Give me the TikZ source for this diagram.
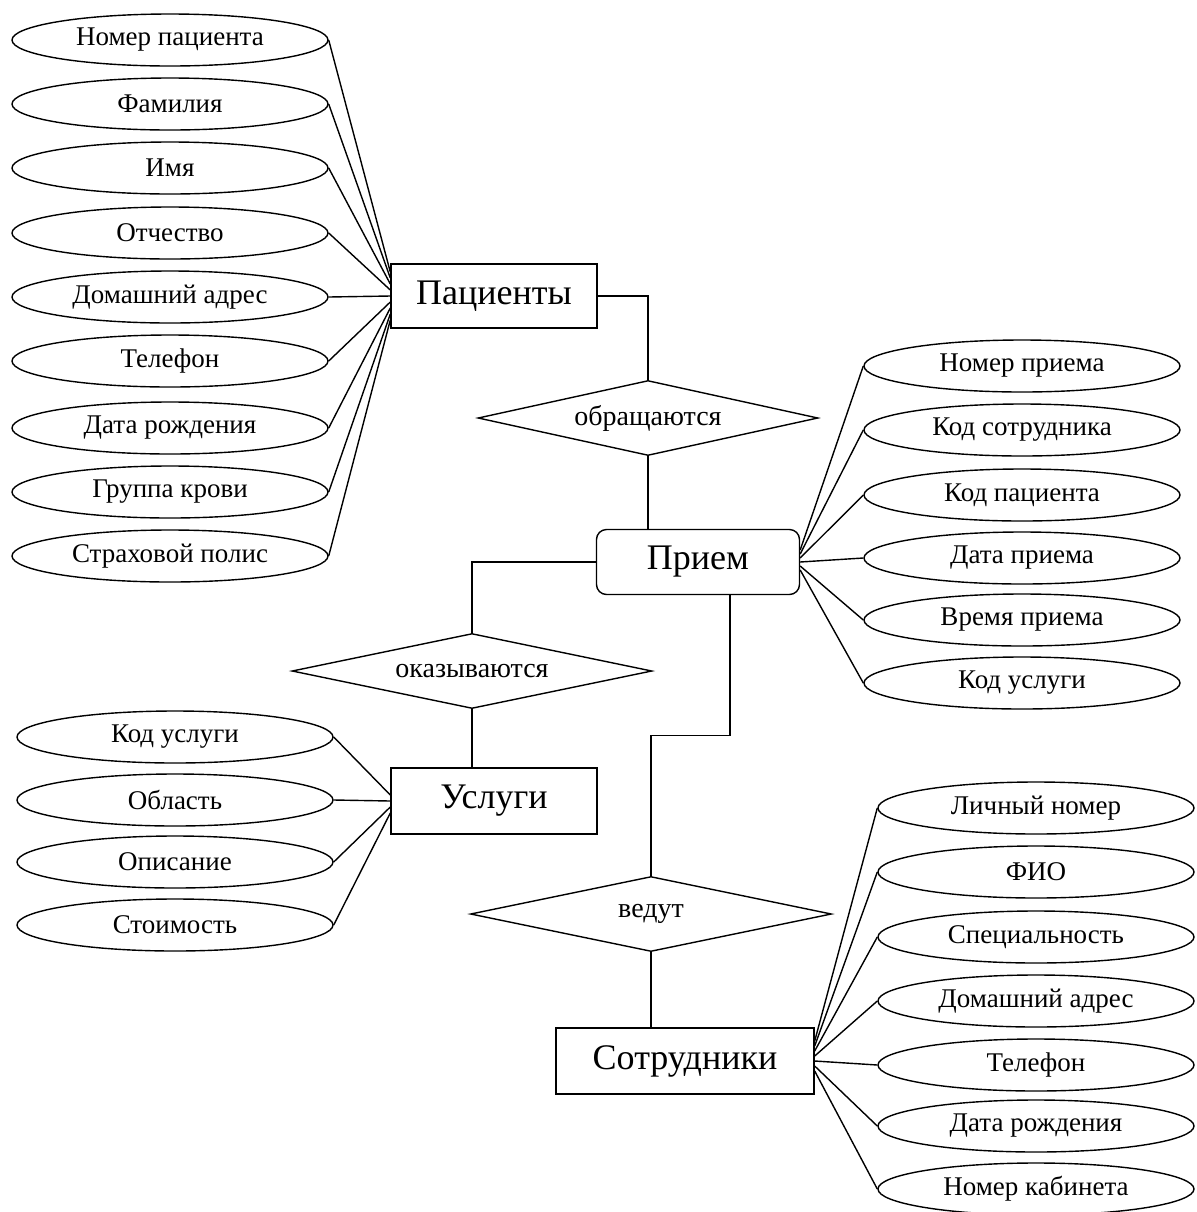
\documentclass[tikz,border=0pt]{standalone}
\usepackage{fontspec}
\setmainfont{Liberation Serif}
\usetikzlibrary{shapes.geometric,calc}
\tikzset{
	attr/.style={draw,ellipse,line width=0.7pt,minimum width=158pt,minimum height=26pt,inner sep=1pt,font=\fontsize{13.5}{15}\selectfont},
	entity/.style={draw,rectangle,line width=0.7pt,inner sep=0pt,font=\fontsize{18}{20}\selectfont},
	rel/.style={draw,diamond,shape aspect=4.5,line width=0.7pt,inner sep=0pt,font=\fontsize{14}{16}\selectfont},
	link/.style={line width=0.7pt}
}
\begin{document}
\begin{tikzpicture}[x=0.5pt,y=-0.5pt]
		\useasboundingbox (0,0) rectangle (1197,1212);
		\node[entity,minimum width=103pt,minimum height=32pt] (pac) at (494,296) {Пациенты};
		\node[entity,rounded corners=5pt,minimum width=101.5pt,minimum height=32.5pt] (priem) at (698,562) {Прием};
		\node[entity,minimum width=103pt,minimum height=33pt] (usl) at (494,801) {Услуги};
		\node[entity,minimum width=129pt,minimum height=33pt] (sotr) at (685,1061) {Сотрудники};
		\node[rel,minimum width=170pt,minimum height=37.5pt] (obr) at (648,418) {обращаются};
		\node[rel,minimum width=180pt,minimum height=37.5pt] (okaz) at (472,671) {оказываются};
		\node[rel,minimum width=180.5pt,minimum height=37.5pt] (vedut) at (651,914) {ведут};
		\foreach \y/\t [count=\i] in {40/Номер пациента,104/Фамилия,168/Имя,233/Отчество,297/Домашний адрес,361/Телефон,428/Дата рождения,492/Группа крови,556/Страховой полис}{
			\node[attr] (p\i) at (170,\y) {\t};
			\draw[link] (p\i.east) -- ($(pac.west)+(0,{(\i-5)*6})$);
		}
		\foreach \y/\t [count=\i] in {366/Номер приема,430/Код сотрудника,495/Код пациента,558/Дата приема,620/Время приема,683/Код услуги}{
			\node[attr] (r\i) at (1022,\y) {\t};
			\draw[link] (r\i.west) -- ($(priem.east)+(0,{(\i-4)*4})$);
		}
		\foreach \y/\t [count=\i] in {737/Код услуги,800/Область,862/Описание,925/Стоимость}{
			\node[attr] (u\i) at (175,\y) {\t};
			\draw[link] (u\i.east) -- ($(usl.west)+(0,{(\i-2)*6})$);
		}
		\foreach \y/\t [count=\i] in {808/Личный номер,872/ФИО,937/Специальность,1001/Домашний адрес,1065/Телефон,1126/Дата рождения,1189/Номер кабинета}{
			\node[attr] (s\i) at (1036,\y) {\t};
			\draw[link] (s\i.west) -- ($(sotr.east)+(0,{(\i-5)*5})$);
		}
		\draw[link] (pac.east) -| (obr.north);
		\draw[link] (obr.south) -- (obr.south |- priem.north);
		\draw[link] (priem.west) -| (okaz.north);
		\draw[link] (okaz.south) -- (okaz.south |- usl.north);
		\coordinate (pb) at ($(priem.south)+(32,0)$);
		\draw[link] (pb) -- ++(0,140) -| (vedut.north);
		\draw[link] (vedut.south) -- (vedut.south |- sotr.north);
\end{tikzpicture}
\end{document}
